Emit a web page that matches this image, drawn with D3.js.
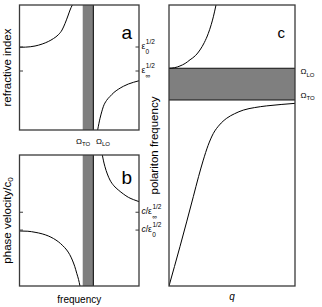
<!DOCTYPE html>
<html>
<head>
<meta charset="utf-8">
<script src="https://cdn.jsdelivr.net/npm/d3@7"></script>
<style>
  body { margin: 0; background: #fff; }
  text { font-family: "Liberation Sans", Arial, sans-serif; fill: #000; }
</style>
</head>
<body>
<svg id="fig" width="322" height="307"></svg>
<script>
// ---- data (arbitrary units) ----
// panels a and b share a frequency axis 0..1
const bandAB = [0.529, 0.618];            // Omega_TO, Omega_LO
const nTicks = [0.664, 0.472];            // eps0^1/2, epsInf^1/2
const nBelow = [[0, 0.662], [0.05, 0.663], [0.13, 0.672], [0.19, 0.688], [0.241, 0.708],
                [0.285, 0.732], [0.325, 0.762], [0.356, 0.8], [0.381, 0.852], [0.405, 0.912],
                [0.423, 0.96], [0.442, 1.0]];
const nAbove = [[0.654, 0.0], [0.664, 0.05], [0.674, 0.094], [0.688, 0.145], [0.701, 0.186],
                [0.728, 0.236], [0.757, 0.268], [0.79, 0.3], [0.827, 0.326], [0.87, 0.35],
                [0.911, 0.368], [0.955, 0.382], [1.0, 0.394]];
const vTicks = [0.563, 0.427];            // c/epsInf^1/2, c/eps0^1/2
const vBelow = [[0, 0.42], [0.07, 0.418], [0.13, 0.41], [0.19, 0.398], [0.241, 0.382],
                [0.285, 0.362], [0.325, 0.338], [0.362, 0.308], [0.395, 0.275], [0.42, 0.24],
                [0.442, 0.198], [0.462, 0.15], [0.479, 0.097], [0.494, 0.05], [0.506, 0.0]];
const vAbove = [[0.693, 1.0], [0.703, 0.955], [0.715, 0.911], [0.735, 0.855], [0.757, 0.809],
                [0.79, 0.765], [0.827, 0.733], [0.87, 0.702], [0.911, 0.677], [0.955, 0.659],
                [1.0, 0.644]];
// panel c: q 0..1, frequency 0..1
const bandC = [0.662, 0.775];             // Omega_TO, Omega_LO
const wUpper = [[0, 0.775], [0.045, 0.777], [0.087, 0.783], [0.128, 0.792], [0.167, 0.805],
                [0.21, 0.82], [0.246, 0.84], [0.28, 0.866], [0.312, 0.899], [0.335, 0.93],
                [0.352, 0.958], [0.373, 1.0]];
const wLower = [[0, 0], [0.087, 0.14], [0.14, 0.228], [0.193, 0.318], [0.235, 0.39],
                [0.272, 0.448], [0.31, 0.5], [0.352, 0.543], [0.4, 0.573], [0.458, 0.597],
                [0.52, 0.613], [0.59, 0.626], [0.68, 0.635], [0.775, 0.641], [0.89, 0.646],
                [1.0, 0.65]];

const svg = d3.select('#fig');
const border = '#3a3a3a', gray = '#7f7f7f';

function panel(id, x0, x1, y0, y1){
  const g = svg.append('g');
  g.append('clipPath').attr('id', 'clip-' + id)
    .append('rect').attr('x', x0).attr('y', y0).attr('width', x1 - x0).attr('height', y1 - y0);
  const plot = g.append('g').attr('clip-path', 'url(#clip-' + id + ')');
  return {
    g: g, plot: plot,
    x: d3.scaleLinear().domain([0, 1]).range([x0, x1]),
    y: d3.scaleLinear().domain([0, 1]).range([y1, y0]),
    frame: function(){
      g.append('rect').attr('x', x0).attr('y', y0).attr('width', x1 - x0).attr('height', y1 - y0)
        .attr('fill', 'none').attr('stroke', border).attr('stroke-width', 1.3);
    }
  };
}

function curve(p, data){
  const line = d3.line().x(d => p.x(d[0])).y(d => p.y(d[1])).curve(d3.curveMonotoneX);
  p.plot.append('path').datum(data).attr('d', line)
    .attr('fill', 'none').attr('stroke', '#000').attr('stroke-width', 1);
}

function ticks(p, vals){
  vals.forEach(v => {
    [[p.x(0), p.x(0) + 3.5], [p.x(1) - 3.5, p.x(1)]].forEach(s => {
      p.g.append('line').attr('x1', s[0]).attr('x2', s[1])
        .attr('y1', p.y(v)).attr('y2', p.y(v)).attr('stroke', border).attr('stroke-width', 1);
    });
  });
}

// label with stacked superscript/subscript
function stacked(g, x, y, main, sup, sub, italicC){
  const t = g.append('text').attr('x', x).attr('y', y + 1.8).style('font-size', '8.5px');
  if (italicC){
    t.append('tspan').style('font-style', 'italic').text('c');
    t.append('tspan').text('/ε');
  } else t.text(main);
  const w = t.node().getComputedTextLength();
  g.append('text').attr('x', x + w + 0.5).attr('y', y - 2.8).style('font-size', '6.5px').text(sup);
  g.append('text').attr('x', x + w + 0.3).attr('y', y + 6.8).style('font-size', '6.5px').text(sub);
}

function omega(g, x, y, sub, anchorEnd){
  const t = g.append('text').attr('x', x).attr('y', y).style('font-size', '8px')
    .attr('text-anchor', anchorEnd ? 'end' : 'start');
  t.append('tspan').text('Ω');
  t.append('tspan').attr('dy', 2.8).style('font-size', '6px').text(sub);
}

// ---- panel a ----
const pa = panel('a', 19.5, 139, 5, 130);
pa.plot.append('rect').attr('x', pa.x(bandAB[0])).attr('y', 5)
  .attr('width', pa.x(bandAB[1]) - pa.x(bandAB[0])).attr('height', 125).attr('fill', gray);
pa.plot.append('line').attr('x1', pa.x(bandAB[1])).attr('x2', pa.x(bandAB[1]))
  .attr('y1', 5).attr('y2', 130).attr('stroke', '#111').attr('stroke-width', 1.1);
curve(pa, nBelow);
curve(pa, nAbove);
ticks(pa, nTicks);
pa.frame();
stacked(pa.g, 141.5, pa.y(nTicks[0]), 'ε', '1/2', '0');
stacked(pa.g, 141.5, pa.y(nTicks[1]), 'ε', '1/2', '∞');
omega(pa.g, pa.x(bandAB[0]) + 7.5, 143.5, 'TO', true);
omega(pa.g, pa.x(bandAB[1]) + 2.7, 143.5, 'LO', false);
pa.g.append('text').attr('a', 1).attr('x', 121.5).attr('y', 38.5).style('font-size', '19px').text('a');
pa.g.append('text').attr('transform', 'translate(10.5,' + pa.y(0.5) + ') rotate(-90)')
  .attr('text-anchor', 'middle').style('font-size', '11.5px').text('refractive index');

// ---- panel b ----
const pb = panel('b', 19.5, 139, 155, 286);
pb.plot.append('rect').attr('x', pb.x(bandAB[0])).attr('y', 155)
  .attr('width', pb.x(bandAB[1]) - pb.x(bandAB[0])).attr('height', 131).attr('fill', gray);
pb.plot.append('line').attr('x1', pb.x(bandAB[1])).attr('x2', pb.x(bandAB[1]))
  .attr('y1', 155).attr('y2', 286).attr('stroke', '#111').attr('stroke-width', 1.1);
curve(pb, vBelow);
curve(pb, vAbove);
ticks(pb, vTicks);
pb.frame();
stacked(pb.g, 141.5, pb.y(vTicks[0]), null, '1/2', '∞', true);
stacked(pb.g, 141.5, pb.y(vTicks[1]), null, '1/2', '0', true);
pb.g.append('text').attr('x', 121.5).attr('y', 184.3).style('font-size', '19px').text('b');
const vl = pb.g.append('text').attr('transform', 'translate(10.5,' + pb.y(0.5) + ') rotate(-90)')
  .attr('text-anchor', 'middle').style('font-size', '11.5px');
vl.append('tspan').text('phase velocity/c');
vl.append('tspan').attr('dy', 2.5).style('font-size', '8px').text('0');
pb.g.append('text').attr('x', pb.x(0.5)).attr('y', 303).attr('text-anchor', 'middle')
  .style('font-size', '10px').text('frequency');

// ---- panel c ----
const pc = panel('c', 169, 295, 5, 286);
pc.plot.append('rect').attr('x', 169).attr('y', pc.y(bandC[1]))
  .attr('width', 126).attr('height', pc.y(bandC[0]) - pc.y(bandC[1])).attr('fill', gray);
bandC.forEach(v => {
  pc.plot.append('line').attr('x1', 169).attr('x2', 295).attr('y1', pc.y(v)).attr('y2', pc.y(v))
    .attr('stroke', '#111').attr('stroke-width', 1.1);
});
curve(pc, wUpper);
curve(pc, wLower);
pc.frame();
omega(pc.g, 300.5, pc.y(bandC[1]) + 5.5, 'LO', false);
omega(pc.g, 300.5, pc.y(bandC[0]) - 2.3, 'TO', false);
pc.g.append('text').attr('x', 277.5).attr('y', 38.3).style('font-size', '15px').text('c');
pc.g.append('text').attr('transform', 'translate(158,' + pc.y(0.5) + ') rotate(-90)')
  .attr('text-anchor', 'middle').style('font-size', '11.5px').text('polariton frequency');
pc.g.append('text').attr('x', pc.x(0.5)).attr('y', 300).attr('text-anchor', 'middle')
  .style('font-size', '10px').style('font-style', 'italic').text('q');
</script>
</body>
</html>
